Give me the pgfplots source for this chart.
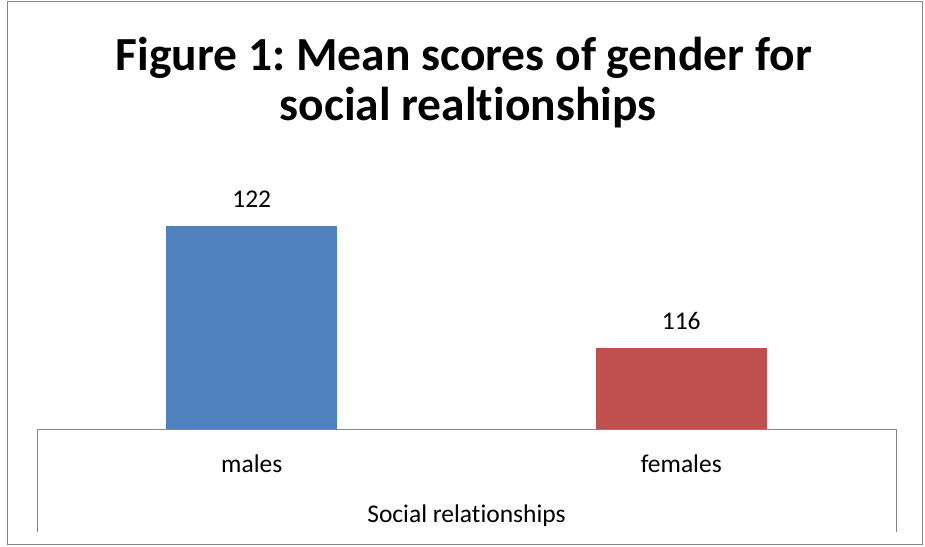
\documentclass[border=0pt]{standalone}
\usepackage{pgfplots}
\pgfplotsset{compat=1.18}
\usepackage{fontspec}
\setmainfont{Carlito}[Ligatures={NoCommon}]
\frenchspacing
\definecolor{barblue}{HTML}{4F81BD}
\definecolor{barred}{HTML}{C0504D}
\definecolor{axgray}{HTML}{868686}
\begin{document}
\frenchspacing
\begin{tikzpicture}[x=1pt,y=1pt]
\path[use as bounding box] (0,0) rectangle (925,546);
\draw[axgray, line width=1pt] (7,2) rectangle (922,544);
\node[font=\fontsize{47.5}{56}\selectfont\bfseries, anchor=base, inner sep=0pt] at (464,475.5) {Figure 1: Mean scores of gender for};
\node[font=\fontsize{47.5}{56}\selectfont\bfseries, anchor=base, inner sep=0pt] at (468,425) {social realtionships};
\begin{axis}[
  at={(37pt,117pt)}, anchor=south west,
  scale only axis, width=859pt, height=244pt,
  xmin=-0.5, xmax=1.5, ymin=112, ymax=124,
  axis x line*=bottom, axis y line=none,
  x axis line style={axgray, line width=1pt, -},
  xtick={0,1}, xticklabels={males, females},
  major tick length=0pt,
  xticklabel style={anchor=base, inner sep=0pt, yshift=-43pt, font=\fontsize{25.5}{30}\selectfont},
  xlabel={Social relationships},
  xlabel style={at={(axis description cs:0.5,0)}, anchor=base, inner sep=0pt, yshift=-93pt, font=\fontsize{25.5}{30}\selectfont},
  ybar, bar width=171pt, bar shift=0pt,
  nodes near coords,
  /pgf/number format/assume math mode=true,
  nodes near coords style={font=\fontsize{25.5}{30}\selectfont, anchor=base, inner sep=0pt, yshift=18pt},
  clip=false,
]
\addplot[fill=barblue, draw=none] coordinates {(0,122)};
\addplot[fill=barred, draw=none] coordinates {(1,116)};
\draw[axgray, line width=1pt] (axis description cs:0,0) -- ++(0pt,-103pt);
\draw[axgray, line width=1pt] (axis description cs:1,0) -- ++(0pt,-103pt);
\end{axis}
\end{tikzpicture}
\end{document}
